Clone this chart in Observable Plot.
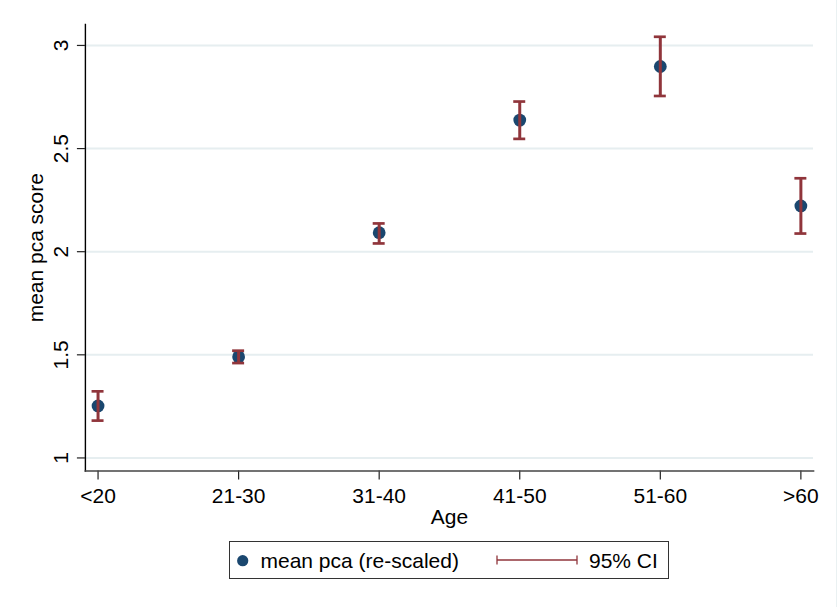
<!DOCTYPE html>
<html>
<head>
<meta charset="utf-8">
<script src="https://cdn.jsdelivr.net/npm/d3@7"></script>
<script src="https://cdn.jsdelivr.net/npm/@observablehq/plot@0.6"></script>
<style>
  html, body { margin: 0; padding: 0; background: #fff; }
  body { font-family: "Liberation Sans", Arial, sans-serif; }
  #wrap { position: relative; width: 837px; height: 607px; box-sizing: border-box; border-right: 1px solid #eaf1f2; }
  #legend { position: absolute; left: 229px; top: 541px; width: 440px; height: 38px; box-sizing: border-box; border: 1px solid #333; }
  #legend svg { position: absolute; left: 0; top: 0; }
</style>
</head>
<body>
<div id="wrap"></div>
<script>
const ages  = ["<20", "21-30", "31-40", "41-50", "51-60", ">60"];
const means = [1.252, 1.490, 2.092, 2.638, 2.898, 2.222];
const lower = [1.181, 1.460, 2.040, 2.547, 2.755, 2.088];
const upper = [1.323, 1.520, 2.137, 2.728, 3.042, 2.356];
const yTicks = [1, 1.5, 2, 2.5, 3];
const xTitle = "Age";
const yTitle = "mean pca score";
const legendLabels = ["mean pca (re-scaled)", "95% CI"];

const navy = "#1a476f";
const maroon = "#90353b";
const font = "\"Liberation Sans\", Arial, sans-serif";
const fs = 21;

const data = ages.map((a, i) => ({age: a, mean: means[i], lo: lower[i], hi: upper[i]}));

const chart = Plot.plot({
  width: 837,
  height: 535,
  marginLeft: 85,
  marginRight: 23,
  marginTop: 24,
  marginBottom: 64,
  style: {fontFamily: font, fontSize: fs + "px", background: "transparent", overflow: "visible"},
  x: {type: "point", domain: ages, padding: 0.09, round: false},
  y: {domain: [0.937, 3.1017]},
  marks: [
    Plot.gridY(yTicks, {stroke: "#e6eef0", strokeOpacity: 1, strokeWidth: 2}),
    Plot.axisY(yTicks, {tickSize: 8, tickPadding: 9, tickRotate: -90, label: null, fontSize: fs, stroke: "#222", strokeWidth: 1.2, tickFormat: d => String(d)}),
    Plot.axisX({tickSize: 9, tickPadding: 8, label: null, fontSize: fs, stroke: "#222", strokeWidth: 1.2}),
    Plot.frame({anchor: "left", stroke: "#000", strokeWidth: 1.4}),
    Plot.frame({anchor: "bottom", stroke: "#444", strokeWidth: 1.6}),
    Plot.text([yTitle], {frameAnchor: "left", dx: -42, rotate: -90, lineAnchor: "bottom", textAnchor: "middle", fontSize: fs, fill: "#000"}),
    Plot.text([xTitle], {frameAnchor: "bottom", dy: 53, lineAnchor: "bottom", textAnchor: "middle", fontSize: fs, fill: "#000"}),
    Plot.dot(data, {x: "age", y: "mean", r: 6.4, fill: navy, stroke: "none"}),
    Plot.ruleX(data, {x: "age", y1: "lo", y2: "hi", stroke: maroon, strokeWidth: 3}),
    Plot.ruleY(data, {x1: "age", x2: "age", y: "lo", insetLeft: -6, insetRight: -6, stroke: maroon, strokeWidth: 2.7}),
    Plot.ruleY(data, {x1: "age", x2: "age", y: "hi", insetLeft: -6, insetRight: -6, stroke: maroon, strokeWidth: 2.7})
  ]
});
chart.style.position = "absolute";
chart.style.left = "0px";
chart.style.top = "0px";
const wrap = document.getElementById("wrap");
wrap.appendChild(chart);

// legend
const leg = document.createElement("div");
leg.id = "legend";
wrap.appendChild(leg);
const svg = d3.select(leg).append("svg").attr("width", 438).attr("height", 36)
  .style("font-family", font).style("font-size", fs + "px");
// origin is inner box at (230, 542)
svg.append("circle").attr("cx", 242.7 - 230).attr("cy", 560.7 - 542).attr("r", 5.6).attr("fill", navy);
svg.append("text").attr("x", 260.5 - 230).attr("y", 568 - 542).text(legendLabels[0]).attr("fill", "#000");
const cy = 560 - 542;
const x0 = 497 - 230, x1 = 577 - 230;
svg.append("line").attr("x1", x0).attr("x2", x1).attr("y1", cy).attr("y2", cy).attr("stroke", maroon).attr("stroke-width", 1.6);
svg.append("line").attr("x1", x0).attr("x2", x0).attr("y1", cy - 4.5).attr("y2", cy + 4.5).attr("stroke", maroon).attr("stroke-width", 1.3);
svg.append("line").attr("x1", x1).attr("x2", x1).attr("y1", cy - 4.5).attr("y2", cy + 4.5).attr("stroke", maroon).attr("stroke-width", 1.3);
svg.append("text").attr("x", 589 - 230).attr("y", 568 - 542).text(legendLabels[1]).attr("fill", "#000");
</script>
</body>
</html>
